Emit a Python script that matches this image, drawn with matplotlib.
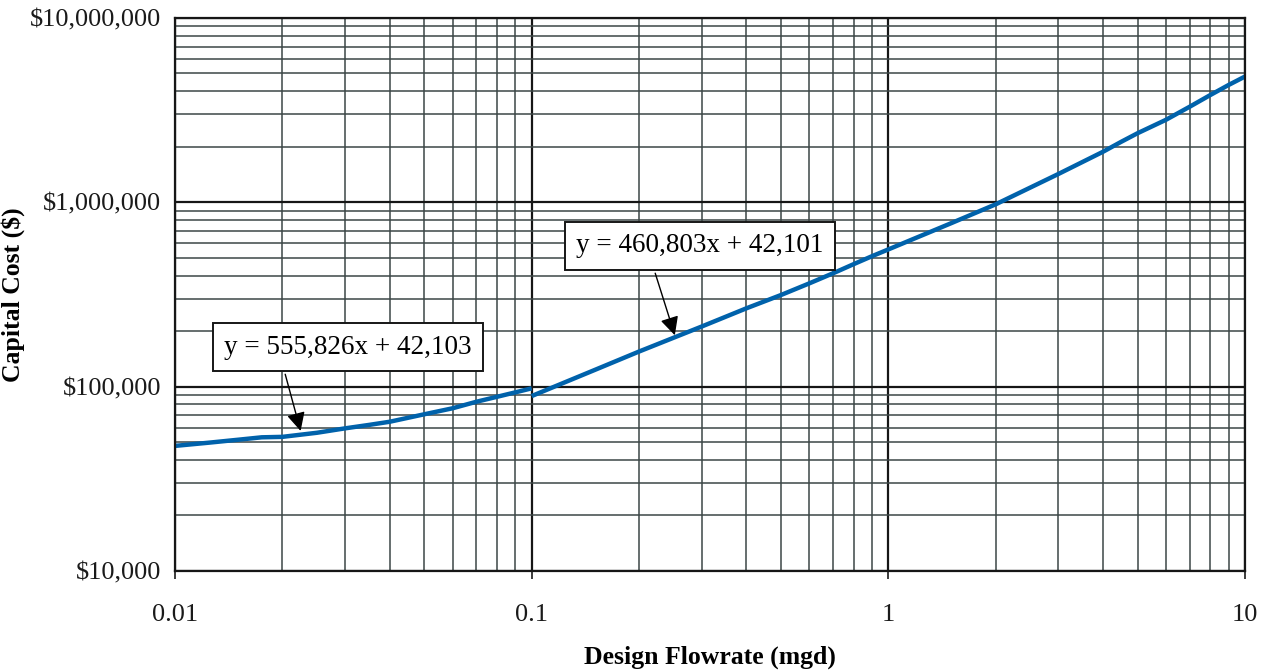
import numpy as np
import matplotlib
matplotlib.use('Agg')
import matplotlib.pyplot as plt
from matplotlib.ticker import NullFormatter, LogLocator

plt.rcParams['font.family'] = ['Liberation Serif', 'DejaVu Serif']

# flowrate (mgd) and capital cost ($)
flow_low = [0.01, 0.0125, 0.015, 0.0175, 0.02, 0.025, 0.03, 0.035, 0.04,
            0.05, 0.06, 0.07, 0.08, 0.09, 0.1]
cost_low = [47700, 49700, 51500, 53100, 53400, 56200, 59400, 62000, 64500,
            70800, 76300, 82800, 88100, 93100, 97900]

flow_high = [0.1, 0.15, 0.2, 0.3, 0.4, 0.5, 0.6, 0.7, 0.8, 0.9, 1, 1.5, 2,
             3, 4, 4.5, 5, 6, 7, 8, 9, 10]
cost_high = [88900, 123000, 155000, 212000, 266000, 314000, 363000, 412000,
             462000, 510000, 555000, 770000, 975000, 1425000, 1880000,
             2130000, 2370000, 2800000, 3300000, 3820000, 4330000, 4810000]

x_ticks = [0.01, 0.1, 1, 10]
x_labels = ['0.01', '0.1', '1', '10']
y_ticks = [1e4, 1e5, 1e6, 1e7]
y_labels = ['$10,000', '$100,000', '$1,000,000', '$10,000,000']

fit_low = 'y = 555,826x + 42,103'
fit_high = 'y = 460,803x + 42,101'

fig = plt.figure(figsize=(12.71, 6.70), dpi=100)
ax = fig.add_axes([0.1377, 0.1478, 0.8418, 0.8254])

ax.set_xscale('log')
ax.set_yscale('log')
ax.set_xlim(0.01, 10)
ax.set_ylim(1e4, 1e7)

# grid lines
ax.xaxis.set_minor_locator(LogLocator(base=10, subs=np.arange(2, 10)))
ax.yaxis.set_minor_locator(LogLocator(base=10, subs=np.arange(2, 10)))
ax.xaxis.set_minor_formatter(NullFormatter())
ax.yaxis.set_minor_formatter(NullFormatter())
ax.grid(which='minor', color='#3c4646', lw=1.1)
ax.grid(which='major', color='#161616', lw=1.6)
ax.set_axisbelow(True)

ax.set_xticks(x_ticks)
ax.set_xticklabels(x_labels)
ax.set_yticks(y_ticks)
ax.set_yticklabels(y_labels)
ax.tick_params(axis='x', which='major', direction='out', length=6, width=1.2,
               pad=18, labelsize=19, colors='#1a1a1a')
ax.tick_params(axis='x', which='minor', length=0)
ax.tick_params(axis='y', which='both', length=0, pad=10, labelsize=19,
               colors='#1a1a1a')

for s in ax.spines.values():
    s.set_linewidth(1.6)
    s.set_color('#161616')

ax.plot(flow_low, cost_low, color='#0062ab', lw=3.2, solid_capstyle='butt')
ax.plot(flow_high, cost_high, color='#0062ab', lw=3.2, solid_capstyle='butt')

ax.set_xlabel('Design Flowrate (mgd)', fontsize=18.5, fontweight='bold',
              labelpad=14)
ax.set_ylabel('Capital Cost ($)', fontsize=18.5, fontweight='bold')
ax.yaxis.set_label_coords(-0.14, 0.5)

box = dict(boxstyle='square,pad=0.42', fc='white', ec='#161616', lw=1.4)
arrow = dict(arrowstyle='-|>', color='black', lw=1.0, mutation_scale=28,
             shrinkA=2, shrinkB=0)

a1 = ax.annotate(fit_low, xy=(0.0225, 57500), xycoords='data',
                 xytext=(0.1617, 0.405), textcoords='axes fraction',
                 ha='center', va='center', fontsize=19.5, bbox=box,
                 arrowprops=dict(arrow, relpos=(0.23, 0)))
a2 = ax.annotate(fit_high, xy=(0.252, 190000), xycoords='data',
                 xytext=(0.4907, 0.5877), textcoords='axes fraction',
                 ha='center', va='center', fontsize=19.5, bbox=box,
                 arrowprops=dict(arrow, relpos=(0.3, 0)))

fig.savefig('out.png', dpi=100)
